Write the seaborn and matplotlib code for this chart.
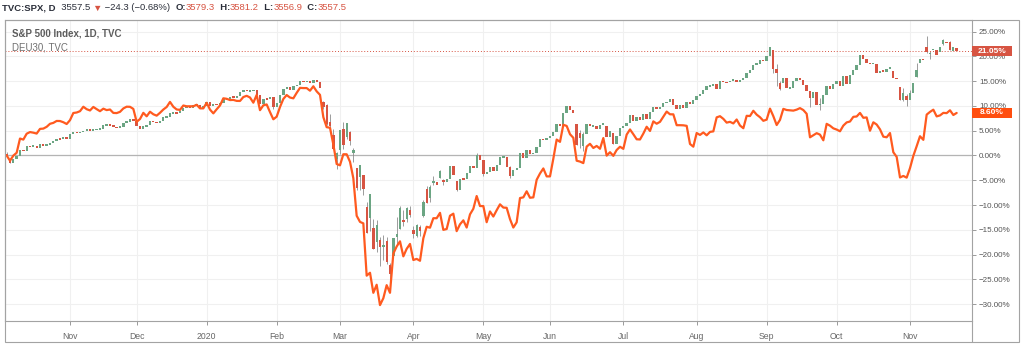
import matplotlib
matplotlib.use('Agg')
import matplotlib.pyplot as plt
import matplotlib.transforms as mtransforms
from matplotlib.patches import Rectangle
from matplotlib.lines import Line2D
from matplotlib.ticker import FuncFormatter
import seaborn as sns
import pandas as pd
import numpy as np

sns.set_style('white')
plt.rcParams['font.family'] = ['Liberation Sans', 'DejaVu Sans']

UP = '#6ba583'
DOWN = '#d75442'
WICK = '#8c8c8c'
DAX_COLOR = '#ff5a1f'
DARK = '#2a2e39'
FRAME = '#a3a3a3'

# trading days of TVC:SPX (US holidays removed)
holidays = ['2019-11-28', '2019-12-25', '2020-01-01', '2020-01-20', '2020-02-17',
            '2020-04-10', '2020-05-25', '2020-07-03', '2020-09-07']

# S&P 500 daily closes
spx_oct19 = [2938.79, 2893.06, 2919.40, 2938.13, 2970.27, 2966.15, 2995.68, 2989.69, 2997.95, 2986.20,
             3006.72, 2995.99, 3004.52, 3010.29, 3022.55, 3039.42, 3036.89, 3046.77, 3037.56]
spx_nov19 = [3066.91, 3078.27, 3074.62, 3076.78, 3085.18, 3093.08, 3087.01, 3091.84, 3094.04, 3096.63,
             3120.46, 3122.03, 3120.18, 3108.46, 3103.54, 3110.29, 3133.64, 3140.52, 3153.63, 3140.98]
spx_dec19 = [3113.87, 3093.20, 3112.76, 3117.43, 3145.91, 3135.96, 3132.52, 3141.63, 3168.57, 3168.80,
             3191.45, 3192.52, 3191.14, 3205.37, 3221.22, 3224.01, 3223.38, 3239.91, 3240.02, 3221.29, 3230.78]
spx_jan20 = [3257.85, 3234.85, 3246.28, 3237.18, 3253.05, 3274.70, 3265.35, 3288.13, 3283.15, 3289.29,
             3316.81, 3329.62, 3320.79, 3321.75, 3325.54, 3295.47, 3243.63, 3276.24, 3273.40, 3283.66, 3225.52]
spx_feb20 = [3248.92, 3297.59, 3334.69, 3345.78, 3327.71, 3352.09, 3357.75, 3379.45, 3373.94, 3380.16,
             3370.29, 3386.15, 3373.23, 3337.75, 3225.89, 3128.21, 3116.39, 2978.76, 2954.22]
spx_mar20 = [3090.23, 3003.37, 3130.12, 3023.94, 2972.37, 2746.56, 2882.23, 2741.38, 2480.64, 2711.02,
             2386.13, 2529.19, 2398.10, 2409.39, 2304.92, 2237.40, 2447.33, 2475.56, 2630.07, 2541.47,
             2626.65, 2584.59]
spx_apr20 = [2470.50, 2526.90, 2488.65, 2663.68, 2659.41, 2749.98, 2789.82, 2761.63, 2846.06, 2783.36,
             2799.55, 2874.56, 2823.16, 2736.56, 2799.31, 2797.80, 2836.74, 2878.48, 2863.39, 2939.51, 2912.43]
spx_may20 = [2830.71, 2842.74, 2868.44, 2848.42, 2881.19, 2929.80, 2930.32, 2870.12, 2820.00, 2852.50,
             2863.70, 2953.91, 2922.94, 2971.61, 2948.51, 2955.45, 2991.77, 3036.13, 3029.73, 3044.31]
spx_jun20 = [3055.73, 3080.82, 3122.87, 3112.35, 3193.93, 3232.39, 3207.18, 3190.14, 3002.10, 3041.31,
             3066.59, 3124.74, 3113.49, 3115.34, 3097.74, 3117.86, 3131.29, 3050.33, 3083.76, 3009.05,
             3053.24, 3100.29]
spx_jul20 = [3115.86, 3130.01, 3179.72, 3145.32, 3169.94, 3152.05, 3185.04, 3155.22, 3197.52, 3226.56,
             3215.57, 3224.73, 3251.84, 3257.30, 3276.02, 3235.66, 3215.63, 3239.41, 3218.44, 3258.44,
             3246.22, 3271.12]
spx_aug20 = [3294.61, 3306.51, 3327.77, 3349.16, 3351.28, 3360.47, 3333.69, 3380.35, 3373.43, 3372.85,
             3381.99, 3389.78, 3374.85, 3385.51, 3397.16, 3431.28, 3443.62, 3478.73, 3484.55, 3508.01, 3500.31]
spx_sep20 = [3526.65, 3580.84, 3455.06, 3426.96, 3331.84, 3398.96, 3339.19, 3340.97, 3383.54, 3401.20,
             3385.49, 3357.01, 3319.47, 3281.06, 3315.57, 3236.92, 3246.59, 3298.46, 3351.60, 3335.47, 3363.00]
spx_oct20 = [3380.80, 3348.42, 3408.60, 3360.97, 3419.44, 3446.83, 3477.14, 3534.22, 3511.93, 3488.67,
             3483.34, 3483.81, 3426.92, 3443.12, 3435.56, 3453.49, 3465.39, 3400.97, 3390.68, 3271.03,
             3310.11, 3269.96]
spx_nov20 = [3310.24, 3369.16, 3443.44, 3510.45, 3509.44, 3550.50, 3545.53, 3572.66, 3537.01, 3585.15,
             3626.91, 3609.53, 3567.79, 3581.87, 3557.54]

# opens that differ visibly from the previous close
spx_open = {
    '2019-10-07': 2944.23, '2019-10-08': 2920.40,
    '2020-02-24': 3257.61, '2020-02-25': 3238.94, '2020-02-26': 3139.90, '2020-02-27': 3062.54,
    '2020-02-28': 2916.90, '2020-03-02': 2974.28, '2020-03-03': 3096.46, '2020-03-04': 3045.75,
    '2020-03-05': 3075.70, '2020-03-06': 2954.20, '2020-03-09': 2863.89, '2020-03-10': 2813.48,
    '2020-03-11': 2825.60, '2020-03-12': 2630.86, '2020-03-13': 2569.99, '2020-03-16': 2508.59,
    '2020-03-17': 2425.66, '2020-03-18': 2436.50, '2020-03-19': 2393.48, '2020-03-20': 2431.94,
    '2020-03-23': 2290.71, '2020-03-24': 2344.44, '2020-03-25': 2457.77, '2020-03-26': 2501.29,
    '2020-03-27': 2555.87, '2020-03-30': 2558.98, '2020-03-31': 2614.69, '2020-04-01': 2498.08,
    '2020-04-02': 2458.54, '2020-04-03': 2514.92, '2020-04-06': 2578.28, '2020-04-07': 2738.65,
    '2020-04-08': 2685.00, '2020-04-09': 2776.99, '2020-04-13': 2782.46, '2020-04-14': 2805.10,
    '2020-04-15': 2795.64, '2020-04-21': 2784.81, '2020-06-11': 3123.53, '2020-06-12': 3071.04,
    '2020-06-15': 2993.76, '2020-06-24': 3114.40, '2020-06-26': 3073.20, '2020-09-03': 3564.74,
    '2020-09-04': 3453.60, '2020-09-08': 3371.88, '2020-09-09': 3369.82, '2020-10-26': 3441.42,
    '2020-10-28': 3342.48, '2020-10-30': 3293.59, '2020-11-04': 3406.46, '2020-11-05': 3485.74,
    '2020-11-09': 3583.04, '2020-11-10': 3543.26, '2020-11-11': 3563.22, '2020-11-12': 3562.67,
    '2020-11-13': 3552.57, '2020-11-16': 3600.16, '2020-11-17': 3610.31, '2020-11-18': 3612.09,
    '2020-11-19': 3559.41, '2020-11-20': 3579.31,
}

# visible wicks (low, high)
spx_wick = {
    '2019-10-07': (2935.68, 2959.75), '2019-10-08': (2892.86, 2925.47),
    '2020-01-31': (3214.68, 3282.33), '2020-02-24': (3214.65, 3259.81), '2020-02-25': (3118.77, 3246.99),
    '2020-02-26': (3108.99, 3182.51), '2020-02-27': (2977.39, 3097.07), '2020-02-28': (2855.84, 2959.72),
    '2020-03-02': (2945.19, 3090.96), '2020-03-03': (2976.63, 3136.72), '2020-03-04': (3034.38, 3130.94),
    '2020-03-05': (2999.83, 3083.04), '2020-03-06': (2901.54, 2985.93), '2020-03-09': (2734.43, 2863.89),
    '2020-03-10': (2734.00, 2882.59), '2020-03-11': (2707.22, 2825.60), '2020-03-12': (2478.86, 2660.95),
    '2020-03-13': (2492.37, 2711.33), '2020-03-16': (2380.94, 2562.98), '2020-03-17': (2367.04, 2553.93),
    '2020-03-18': (2280.52, 2453.57), '2020-03-19': (2319.78, 2466.97), '2020-03-20': (2295.56, 2453.01),
    '2020-03-23': (2191.86, 2300.73), '2020-03-24': (2344.44, 2449.71), '2020-03-25': (2407.53, 2571.42),
    '2020-03-26': (2500.72, 2637.01), '2020-03-27': (2520.02, 2615.91), '2020-03-30': (2545.28, 2631.80),
    '2020-03-31': (2571.15, 2641.39), '2020-04-01': (2447.49, 2522.75), '2020-04-02': (2455.79, 2533.22),
    '2020-04-03': (2459.96, 2524.20), '2020-04-06': (2574.57, 2676.85), '2020-04-07': (2657.67, 2756.89),
    '2020-04-08': (2665.00, 2760.75), '2020-04-09': (2762.36, 2818.57), '2020-04-14': (2805.10, 2851.85),
    '2020-04-15': (2761.54, 2801.88), '2020-04-21': (2727.10, 2785.54), '2020-04-29': (2912.16, 2954.86),
    '2020-05-01': (2816.78, 2869.09), '2020-05-13': (2803.31, 2874.68), '2020-06-08': (3196.00, 3233.13),
    '2020-06-11': (2999.49, 3123.53), '2020-06-12': (2984.47, 3088.42), '2020-06-15': (2965.66, 3079.76),
    '2020-06-26': (3007.26, 3073.73), '2020-09-03': (3427.41, 3564.85), '2020-09-04': (3349.63, 3479.15),
    '2020-09-08': (3329.27, 3379.97), '2020-09-21': (3229.10, 3285.57), '2020-09-24': (3209.45, 3278.70),
    '2020-10-28': (3269.39, 3342.48), '2020-10-29': (3259.82, 3341.05), '2020-10-30': (3233.94, 3304.93),
    '2020-11-02': (3279.74, 3330.14), '2020-11-04': (3405.17, 3486.25), '2020-11-09': (3547.48, 3645.99),
    '2020-11-10': (3511.91, 3557.22), '2020-11-16': (3597.00, 3628.51), '2020-11-18': (3567.33, 3619.09),
}

# DEU30 closes on the same bars
dax_oct19 = [12097.43, 11970.20, 12094.26, 12164.20, 12511.65, 12486.56, 12629.79, 12670.11, 12654.95, 12633.60,
             12747.96, 12754.69, 12798.19, 12872.10, 12894.51, 12941.71, 12939.62, 12910.23, 12866.79]
dax_nov19 = [12961, 13136, 13148, 13180, 13289, 13229, 13198, 13284, 13230, 13180,
             13242, 13207, 13221, 13138, 13134, 13164, 13247, 13290, 13287, 13236]
dax_dec19 = [12920, 12989, 13140, 13055, 13167, 13105, 13071, 13141, 13221, 13283,
             13407, 13288, 13222, 13212, 13319, 13300, 13300, 13300, 13337, 13249, 13249]
dax_jan20 = [13386, 13219, 13127, 13227, 13320, 13495, 13483, 13452, 13456, 13432,
             13430, 13526, 13556, 13515, 13388, 13577, 13205, 13324, 13345, 13158, 12982]
dax_feb20 = [13046, 13282, 13479, 13575, 13514, 13494, 13628, 13750, 13745, 13745,
             13681, 13789, 13665, 13579, 13035, 12790, 12775, 12367, 11890]
dax_mar20 = [11857, 12128, 12127, 11944, 11542, 10625, 10475, 10439, 9161, 9232,
             8742, 8939, 8442, 8610, 8929, 8742, 9701, 9874, 10000, 9633, 9816, 9936]
dax_apr20 = [9544, 9571, 9525, 10075, 10356, 10333, 10565, 10565, 10696, 10280,
             10301, 10626, 10676, 10249, 10416, 10513, 10337, 10659, 10796, 11107, 10862]
dax_may20 = [10862, 10467, 10730, 10606, 10760, 10904, 10825, 10820, 10542, 10337,
             10465, 11058, 11075, 11223, 11065, 11074, 11504, 11658, 11781, 11587]
dax_jun20 = [11587, 12021, 12487, 12431, 12848, 12820, 12617, 12530, 11970, 11949,
             11911, 12315, 12383, 12281, 12331, 12262, 12524, 12094, 12178, 12089, 12232, 12311]
dax_jul20 = [12260, 12608, 12734, 12617, 12494, 12489, 12633, 12800, 12697, 12931,
             12874, 12920, 13046, 13171, 13104, 13103, 12838, 12838, 12835, 12822, 12379, 12313]
dax_aug20 = [12647, 12600, 12661, 12591, 12674, 12687, 13029, 13058, 12993, 12901,
             12920, 12881, 12977, 12830, 12764, 13067, 13062, 13190, 13096, 13033, 12945]
dax_sep20 = [12974, 13243, 13058, 12842, 12968, 13237, 13209, 13202, 13194, 13218,
             13255, 13208, 13116, 12542, 12594, 12643, 12607, 12469, 12871, 12826, 12761]
dax_oct20 = [12731, 12689, 12828, 12906, 12928, 13042, 13051, 13138, 13019, 13028,
             12703, 12909, 12854, 12737, 12558, 12543, 12646, 12177, 12064, 11561, 11598, 11556]
dax_nov20 = [11789, 12089, 12324, 12568, 12480, 13096, 13163, 13217, 13053, 13077,
             13139, 13133, 13202, 13087, 13137.25]

header = [('TVC:SPX, D', DARK, 'bold'), ('  3557.5 ', DARK, 'normal'), ('\u25bc', DOWN, 'normal'),
          (' \u221224.3 (\u22120.68%)  ', DARK, 'normal'), ('O:', DARK, 'bold'), ('3579.3', DOWN, 'normal'),
          ('  H:', DARK, 'bold'), ('3581.2', DOWN, 'normal'), ('  L:', DARK, 'bold'), ('3556.9', DOWN, 'normal'),
          ('  C:', DARK, 'bold'), ('3557.5', DOWN, 'normal')]

# ---- assemble -------------------------------------------------------------
dates = pd.bdate_range('2019-10-07', '2020-11-20')
dates = dates[~dates.isin(pd.to_datetime(holidays))]
spx = np.array(spx_oct19 + spx_nov19 + spx_dec19 + spx_jan20 + spx_feb20 + spx_mar20 + spx_apr20
               + spx_may20 + spx_jun20 + spx_jul20 + spx_aug20 + spx_sep20 + spx_oct20 + spx_nov20)
dax = np.array(dax_oct19 + dax_nov19 + dax_dec19 + dax_jan20 + dax_feb20 + dax_mar20 + dax_apr20
               + dax_may20 + dax_jun20 + dax_jul20 + dax_aug20 + dax_sep20 + dax_oct20 + dax_nov20, dtype=float)
assert len(spx) == len(dax) == len(dates)

keys = [d.strftime('%Y-%m-%d') for d in dates]
opens = np.r_[spx[0], spx[:-1]]
for i, k in enumerate(keys):
    if k in spx_open:
        opens[i] = spx_open[k]

base_spx, base_dax = spx[0], dax[0]
to_pct = lambda v, b: (np.asarray(v, dtype=float) / b - 1) * 100

df = pd.DataFrame({'bar': np.arange(len(dates)), 'open': to_pct(opens, base_spx),
                   'close': to_pct(spx, base_spx), 'dax': to_pct(dax, base_dax)})

W, H = 1024, 351
fig = plt.figure(figsize=(W / 100, H / 100), dpi=100)
fig.patch.set_facecolor('white')


def box(x0, y0, x1, y1):
    return [x0 / W, 1 - y1 / H, (x1 - x0) / W, (y1 - y0) / H]


ax = fig.add_axes(box(5, 20, 972, 321))

# grid
month_pos = [i for i in range(1, len(dates)) if dates[i].month != dates[i - 1].month]
month_lab = ['2020' if dates[i].month == 1 else dates[i].strftime('%b') for i in month_pos]
ax.set_xticks(month_pos)
ax.set_xticklabels(month_lab)
ax.set_yticks(np.arange(-30, 26, 5))
ax.grid(True, color='#f0f0f0', lw=0.8, zorder=0)
ax.axhline(0, color='#b4b4b4', lw=0.9, zorder=1)

# wicks
wi = [i for i, k in enumerate(keys) if k in spx_wick]
lows = to_pct([spx_wick[keys[i]][0] for i in wi], base_spx)
highs = to_pct([spx_wick[keys[i]][1] for i in wi], base_spx)
ax.vlines(wi, lows, highs, color=WICK, lw=0.6, zorder=2)

# candle bodies
mid = (df['close'] + df['open']) / 2
body = (df['close'] - df['open']).abs().clip(lower=0.3)
bottom = np.minimum(df[['open', 'close']].min(axis=1), mid - body / 2)
colors = np.where(df['close'] >= df['open'], UP, DOWN)
ax.bar(df['bar'], body, bottom=bottom, width=0.7, color=colors, linewidth=0, zorder=3)

# compare line
sns.lineplot(data=df, x='bar', y='dax', ax=ax, color=DAX_COLOR, lw=1.6, zorder=4)

last_spx = df['close'].iloc[-1]
last_dax = df['dax'].iloc[-1]
ax.axhline(last_spx, color=DOWN, lw=0.7, ls=(0, (1, 2)), zorder=2)

ax.set_xlim(-0.5, 289.6)
ax.set_ylim(-33.43, 27.37)
ax.set_xlabel('')
ax.set_ylabel('')
ax.yaxis.tick_right()
ax.yaxis.set_major_formatter(FuncFormatter(lambda v, p: f'{v:.2f}%'.replace('-', '\u2212')))
ax.tick_params(axis='y', which='both', right=True, left=False, length=3, width=0.6, color='#8a8a8a',
               labelsize=5.8, labelcolor='#555555', pad=2)
ax.tick_params(axis='x', which='both', bottom=True, length=3, width=0.6, color='#8a8a8a',
               labelsize=6.2, labelcolor='#666666', pad=5)
for s in ax.spines.values():
    s.set_color(FRAME)
    s.set_linewidth(0.8)

# last-value labels on the price scale
blend = mtransforms.blended_transform_factory(ax.transAxes, ax.transData)
lw_ax = 40 / 967
for val, col in [(last_spx, DOWN), (last_dax, '#ff4e0f')]:
    ax.add_patch(Rectangle((1.0, val - 1.01), lw_ax, 2.02, transform=blend, facecolor=col,
                           edgecolor='none', clip_on=False, zorder=6))
    ax.text(1.0 + lw_ax / 2, val, f'{val:.2f}%', transform=blend, ha='center', va='center',
            color='white', fontsize=6, fontweight='bold', clip_on=False, zorder=7)

# series captions
ax.text(7 / 967, 1 - 14 / 301, 'S&P 500 Index, 1D, TVC', transform=ax.transAxes, fontsize=7,
        fontweight='bold', color='#5d5d5d', va='center', ha='left')
ax.text(7 / 967, 1 - 27 / 301, 'DEU30, TVC', transform=ax.transAxes, fontsize=7,
        color='#707070', va='center', ha='left')

# outer frame
fig.add_artist(Rectangle((5 / W, 1 - 342 / H), (1019 - 5) / W, (342 - 20) / H, transform=fig.transFigure,
                         fill=False, edgecolor=FRAME, lw=0.8))
fig.add_artist(Line2D([972 / W, 972 / W], [1 - 342 / H, 1 - 321 / H], transform=fig.transFigure,
                      color=FRAME, lw=0.8))

# header line
renderer = fig.canvas.get_renderer()
x = 2 / W
for text, col, weight in header:
    t = fig.text(x, 1 - 8 / H, text, color=col, fontweight=weight, fontsize=6.8, va='center', ha='left')
    x += t.get_window_extent(renderer).width / W

fig.savefig('out.png', dpi=100, facecolor='white')
